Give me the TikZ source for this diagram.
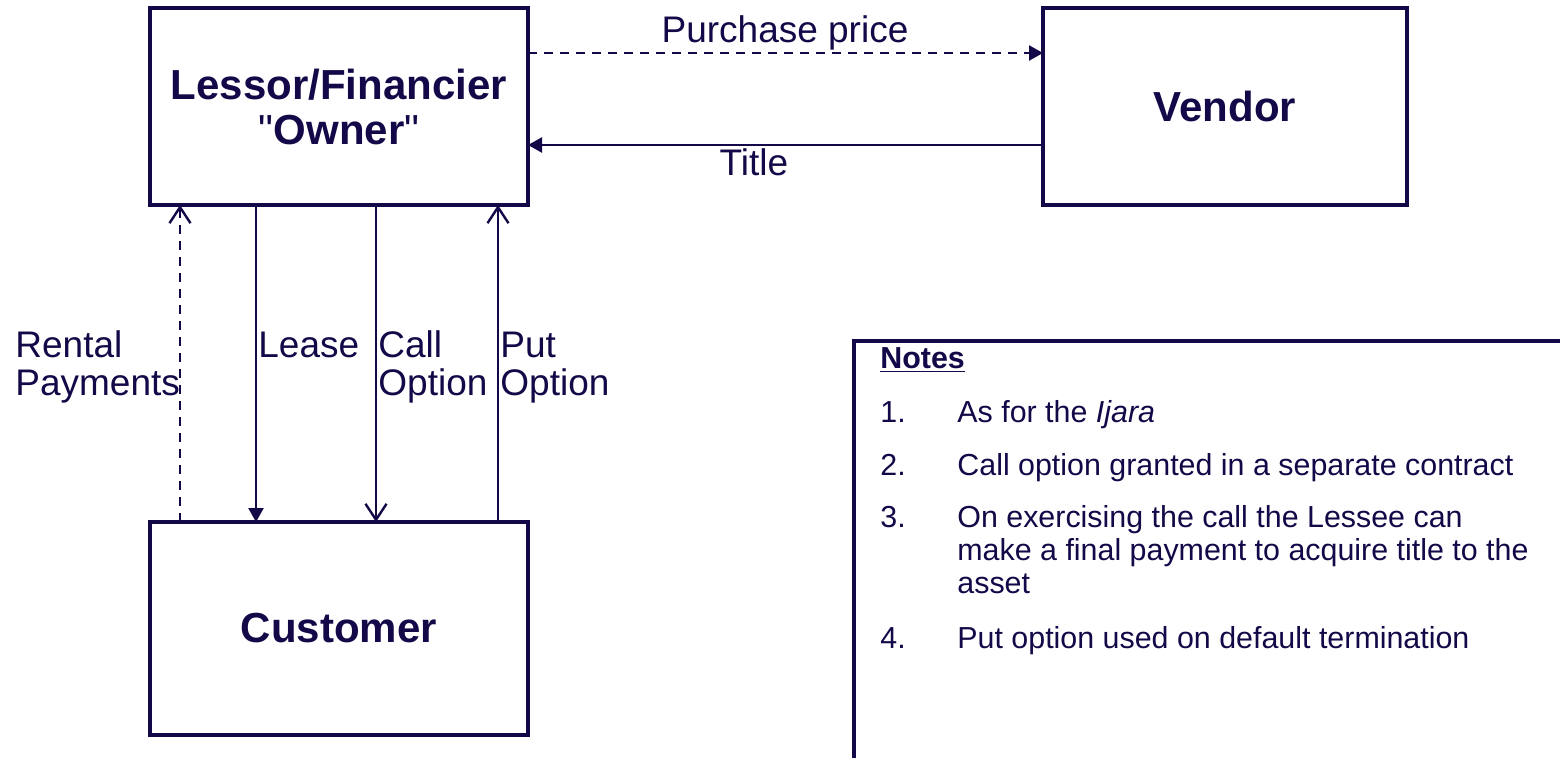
\documentclass[tikz,border=0pt]{standalone}
\usepackage{fontspec}
\setmainfont{Liberation Sans}
\usetikzlibrary{arrows.meta}
\definecolor{ink}{RGB}{20,8,72}
\begin{document}
\begin{tikzpicture}[x=0.5pt,y=-0.5pt,
  box/.style={draw=ink, line width=1.6pt, text=ink, font=\fontsize{21pt}{22.5pt}\selectfont\bfseries, align=center, inner sep=0pt, outer sep=0pt},
  flow/.style={draw=ink, line width=1.2pt},
  tri/.style={-{Triangle[length=7pt,width=7.5pt]}},
  vee/.style={-{Straight Barb[length=8pt,width=10.5pt]}},
  dashline/.style={dash pattern=on 4.5pt off 3.5pt},
  lbl/.style={text=ink, font=\fontsize{18.5pt}{19pt}\selectfont, inner sep=0pt, anchor=base west},
  note/.style={text=ink, font=\fontsize{15.2pt}{16.5pt}\selectfont, inner sep=0pt, anchor=base west}]
\useasboundingbox (0,0) rectangle (1560,757);
\fill[white] (0,0) rectangle (1560,757);
\clip (0,0) rectangle (1560,757);

\node[box, minimum width=189pt, minimum height=98.5pt] (lessor) at (339,106.5) {Lessor/Financier\\{\mdseries\textquotedbl}Owner{\mdseries\textquotedbl}};
\node[box, minimum width=182pt, minimum height=98.5pt] (vendor) at (1225,106.5) {Vendor};
\node[box, minimum width=189pt, minimum height=106.5pt] (customer) at (339,628.5) {Customer};

\coordinate (yp) at (0,53);
\coordinate (yt) at (0,145);
\coordinate (xr) at (180,0);
\coordinate (xl) at (256,0);
\coordinate (xc) at (376,0);
\coordinate (xp) at (498,0);

\draw[flow,dashline,tri] (lessor.east |- yp) -- (vendor.west |- yp);
\draw[flow,tri] (vendor.west |- yt) -- (lessor.east |- yt);
\draw[flow,dashline,vee] (customer.north -| xr) -- (lessor.south -| xr);
\draw[flow,tri] (lessor.south -| xl) -- (customer.north -| xl);
\draw[flow,vee] (lessor.south -| xc) -- (customer.north -| xc);
\draw[flow,vee] (customer.north -| xp) -- (lessor.south -| xp);

\node[lbl, anchor=base] (lpp) at (785,42) {Purchase price};
\node[lbl, anchor=base] (lt) at (754,175) {Title};
\node[lbl] (lr1) at (15,357) {Rental};
\node[lbl] (lr2) at (15,395) {Payments};
\node[lbl] (ll) at (258,357) {Lease};
\node[lbl] (lc1) at (378,357) {Call};
\node[lbl] (lc2) at (378,395) {Option};
\node[lbl] (lpu1) at (500,357) {Put};
\node[lbl] (lpu2) at (500,395) {Option};

\node[draw=ink, line width=1.6pt, anchor=north west, inner sep=0pt, outer sep=0pt, minimum width=380pt, minimum height=230pt] (notes) at (854,341) {};
\node[note] (nh) at (880,368) {\underline{\textbf{Notes}}};
\node[note] (n1) at (880,422) {1.};
\node[note] (t1) at (957,422) {As for the \textit{Ijara}};
\node[note] (n2) at (880,475) {2.};
\node[note] (t2) at (957,475) {Call option granted in a separate contract};
\node[note] (n3) at (880,527) {3.};
\node[note] (t3a) at (957,527) {On exercising the call the Lessee can};
\node[note] (t3b) at (957,560) {make a final payment to acquire title to the};
\node[note] (t3c) at (957,593) {asset};
\node[note] (n4) at (880,648) {4.};
\node[note] (t4) at (957,648) {Put option used on default termination};
\end{tikzpicture}
\end{document}
